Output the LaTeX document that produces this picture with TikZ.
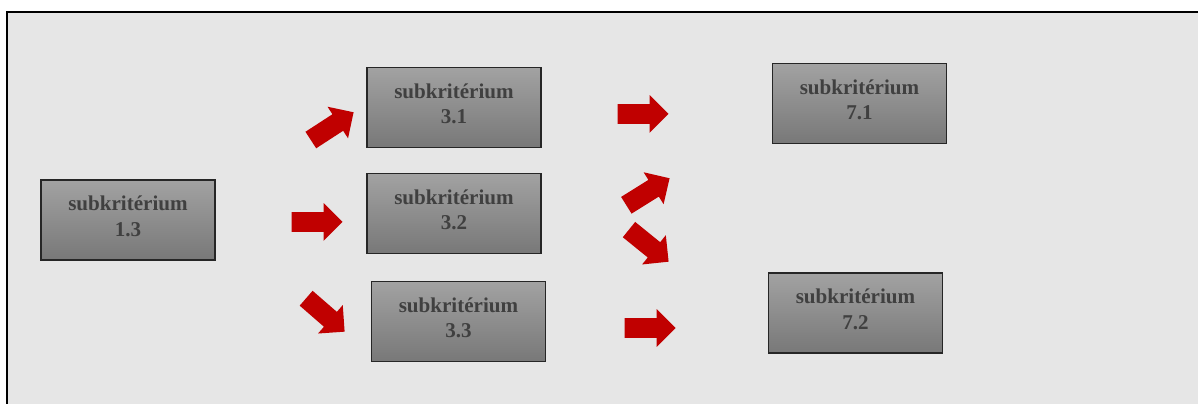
\documentclass[tikz,border=0pt]{standalone}
\usepackage{fontspec}
\setmainfont{Liberation Serif}
\usepackage{tikz}
\usetikzlibrary{shapes.arrows, positioning}
\definecolor{panelgray}{RGB}{230,230,230}
\definecolor{boxtop}{RGB}{162,162,162}
\definecolor{boxbottom}{RGB}{120,120,120}
\definecolor{labelgray}{RGB}{64,64,64}
\definecolor{arrowred}{RGB}{192,0,0}

\tikzset{
    critbox/.style={draw=black!85, line width=0.8pt, top color=boxtop, bottom color=boxbottom,
        minimum width=3.48cm, minimum height=1.6cm, align=center, text depth=0.16cm,
        font=\bfseries\fontsize{12}{14.5}\selectfont, text=labelgray},
    redarrow/.style={single arrow, fill=arrowred, draw=none, inner xsep=0pt, inner ysep=0.19cm,
        minimum height=1.02cm, single arrow head extend=0.18cm, anchor=tip}
}

\begin{document}
\begin{tikzpicture}[x=0.02cm, y=-0.02cm]
    \useasboundingbox (0,0) rectangle (1198,404);
    \clip (0,0) rectangle (1198,404);
    \fill[white] (0,0) rectangle (1198,404);
    \draw[fill=panelgray, line width=1.2pt] (7,12) rectangle (1220,430);

    % boxes
    \node[critbox] (s13) at (128,220) {subkritérium\\1.3};
    \node[critbox] (s31) at (454,107.5) {subkritérium\\3.1};
    \node[critbox] (s32) at (454,213.5) {subkritérium\\3.2};
    \node[critbox] (s33) at (458.5,321.5) {subkritérium\\3.3};
    \node[critbox] (s71) at (859.5,103.5) {subkritérium\\7.1};
    \node[critbox] (s72) at (855.5,313) {subkritérium\\7.2};

    % arrows
    \node[redarrow, rotate=33] (a31) at (354,112) {};
    \node[redarrow] (a32) at (343,222) {};
    \node[redarrow, rotate=-41] (a33) at (345,332) {};
    \node[redarrow] (a71) at (669,114) {};
    \node[redarrow, rotate=32] (a32u) at (670,178) {};
    \node[redarrow, rotate=-39] (a32d) at (669,262) {};
    \node[redarrow] (a72) at (676,328) {};
\end{tikzpicture}
\end{document}
